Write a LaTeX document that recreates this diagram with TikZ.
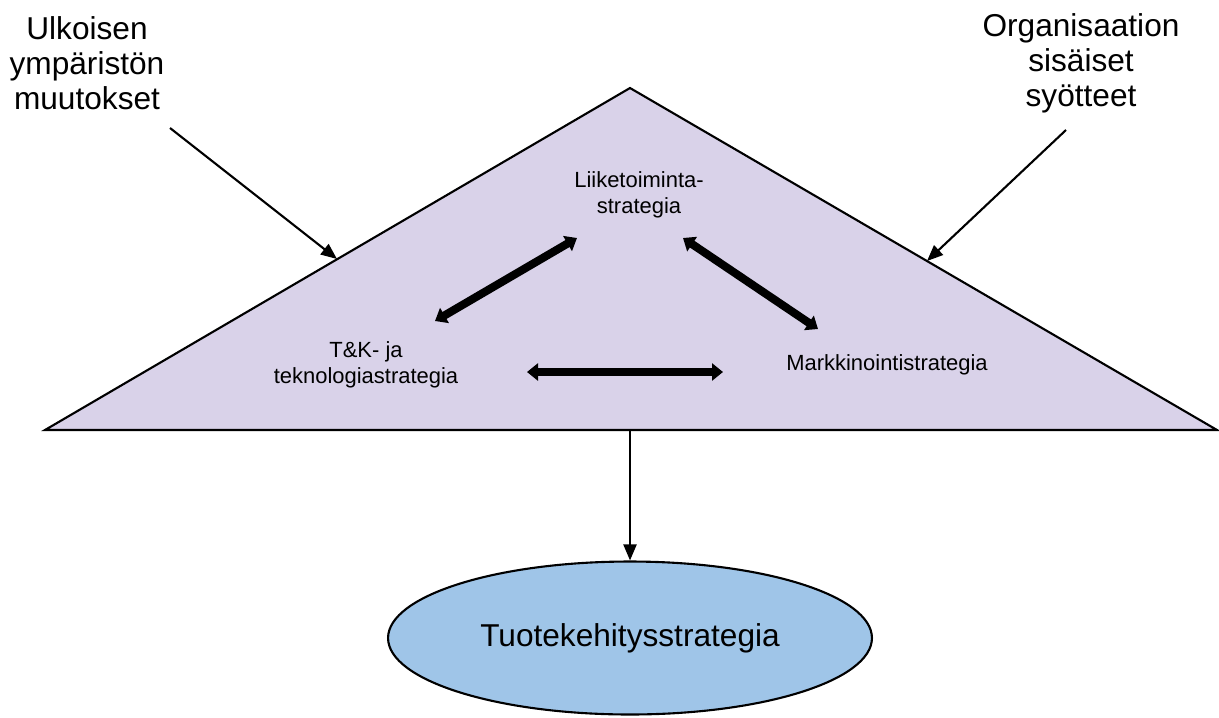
\documentclass[tikz,border=0pt]{standalone}
\usepackage{fontspec}
\setmainfont{Liberation Sans}
\usetikzlibrary{arrows.meta,shapes.geometric}
\definecolor{lila}{HTML}{D9D2E9}
\definecolor{sininen}{HTML}{9FC5E8}
\tikzset{
	ulkoteksti/.style={align=center,font=\fontsize{18}{20}\selectfont},
	sisateksti/.style={align=center,font=\fontsize{12.5}{14.7}\selectfont},
	ohutnuoli/.style={line width=1.2pt,-{Triangle[length=0.32cm,width=0.26cm]}},
	paksunuoli/.style={line width=4.6pt,{Triangle[length=0.22cm,width=0.34cm]}-{Triangle[length=0.22cm,width=0.34cm]}},
}
\begin{document}
\begin{tikzpicture}[x=0.02cm,y=-0.02cm]
						\useasboundingbox (0,0) rectangle (1219,717);
						\coordinate (K) at (630,88);
						\coordinate (VA) at (45,430);
						\coordinate (OA) at (1217,430);
						\coordinate (P) at (630,430);
						\draw[line width=1.2pt,fill=lila] (K) -- (VA) -- (OA) -- cycle;% Kolmio
						\node[ulkoteksti] (ulkoinen) at (87,63) {Ulkoisen\\ympäristön\\muutokset};
						\node[ulkoteksti] (sisainen) at (1081,63) {Organisaation\\sisäiset\\syötteet};
						\node[sisateksti] (liike) at (639,195) {Liiketoiminta-\\strategia};
						\node[sisateksti] (tk) at (366,365) {T\&K- ja\\teknologiastrategia};
						\node[sisateksti] (markk) at (887,365) {Markkinointistrategia};
						\node[draw,line width=1.2pt,fill=sininen,ellipse,minimum width=9.68cm,minimum height=3.06cm,ulkoteksti] (tuote) at (630,638) {Tuotekehitysstrategia};
						\coordinate (U1) at (170,128);
						\coordinate (U2) at (337,259);
						\coordinate (S1) at (1066,130);
						\coordinate (S2) at (927,261);
						\coordinate (L1) at (577,238);
						\coordinate (L2) at (683,238);
						\coordinate (T1) at (435,321);
						\coordinate (T2) at (527,372);
						\coordinate (M1) at (818,329);
						\coordinate (M2) at (723,372);
						\draw[ohutnuoli] (U1) -- (U2);% Ulkoiset muutokset
						\draw[ohutnuoli] (S1) -- (S2);% Sisaiset syotteet
						\draw[ohutnuoli] (P) -- (tuote);% Alas ellipsiin
						\draw[paksunuoli] (T1) -- (L1);
						\draw[paksunuoli] (L2) -- (M1);
						\draw[paksunuoli] (T2) -- (M2);
\end{tikzpicture}
\end{document}
